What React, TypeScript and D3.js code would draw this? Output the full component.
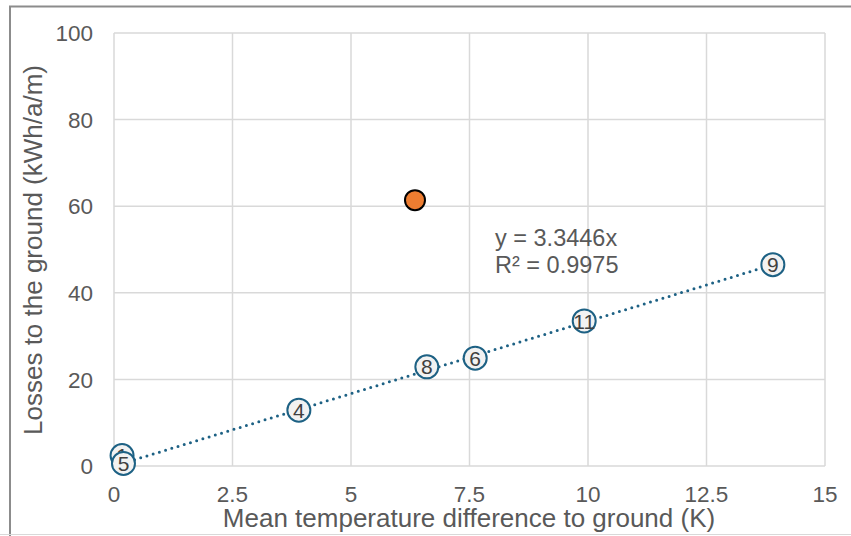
import * as d3 from 'd3';

// measured points, labelled by site number
const pointLabels = ['1', '5', '4', '8', '6', '11', '9'];
const tempDiff = [0.17, 0.2, 3.9, 6.6, 7.62, 9.92, 13.9];
const losses = [2.4, 0.6, 12.9, 22.9, 24.9, 33.5, 46.5];

// outlier (not in fit)
const outlierX = [6.35];
const outlierY = [61.4];

const slope = 3.3446;
const rSquared = '0.9975';

const xTicks = [0, 2.5, 5, 7.5, 10, 12.5, 15];
const yTicks = [0, 20, 40, 60, 80, 100];

const W = 851;
const H = 536;
const FONT = '"Liberation Sans", Arial, sans-serif';
const TEXT = '#595959';
const BLUE = '#1d6184';

const App = () => {
  const x = d3.scaleLinear().domain([0, 15]).range([114, 825]);
  const y = d3.scaleLinear().domain([0, 100]).range([466, 33]);

  const xMin = d3.min(tempDiff) as number;
  const xMax = d3.max(tempDiff) as number;
  const trend = d3.line<number>().x(d => x(d)).y(d => y(d * slope))([xMin, xMax]);

  return (
    <svg width={W} height={H} style={{ position: 'absolute', left: 0, top: 0 }} fontFamily={FONT}>
      <rect x={0} y={0} width={W} height={H} fill="#fff" />
      <path d={`M10,${H} V6.5 H${W}`} fill="none" stroke="#8c8c8c" strokeWidth={2} />
      <line x1={0} x2={W} y1={534.5} y2={534.5} stroke="#d9d9d9" strokeWidth={1} />

      {xTicks.map(t => (
        <line key={'gx' + t} x1={x(t)} x2={x(t)} y1={y(100)} y2={y(0)} stroke="#d9d9d9" strokeWidth={1.5} />
      ))}
      {yTicks.map(t => (
        <line key={'gy' + t} x1={x(0)} x2={x(15)} y1={y(t)} y2={y(t)} stroke="#d9d9d9" strokeWidth={1.5} />
      ))}

      {yTicks.map(t => (
        <text key={'ly' + t} x={93} y={y(t)} dy="0.36em" textAnchor="end" fontSize={22.5} fill={TEXT}>
          {t}
        </text>
      ))}
      {xTicks.map(t => (
        <text key={'lx' + t} x={x(t)} y={502} textAnchor="middle" fontSize={22.5} fill={TEXT}>
          {t}
        </text>
      ))}

      <text x={469} y={527} textAnchor="middle" fontSize={26} fill={TEXT}>
        Mean temperature difference to ground (K)
      </text>
      <text transform={`translate(42,250) rotate(-90)`} textAnchor="middle" fontSize={26} fill={TEXT}>
        Losses to the ground (kWh/a/m)
      </text>

      <path d={trend ?? ''} fill="none" stroke={BLUE} strokeWidth={3} strokeDasharray="0 6.5" strokeLinecap="round" />

      {tempDiff.map((d, i) => (
        <g key={'p' + i} transform={`translate(${x(d)},${y(losses[i])})`}>
          <circle r={11.5} fill="#f2f2f2" stroke={BLUE} strokeWidth={2} />
          <text textAnchor="middle" dy="0.36em" fontSize={21} fill="#404040">
            {pointLabels[i]}
          </text>
        </g>
      ))}

      {outlierX.map((d, i) => (
        <circle key={'o' + i} cx={x(d)} cy={y(outlierY[i])} r={10} fill="#ed7d31" stroke="#000" strokeWidth={2} />
      ))}

      <text x={495} y={246} fontSize={23.5} fill={TEXT}>
        y = {slope}x
      </text>
      <text x={495} y={273} fontSize={23.5} fill={TEXT}>
        R² = {rSquared}
      </text>
    </svg>
  );
};

export default App;
